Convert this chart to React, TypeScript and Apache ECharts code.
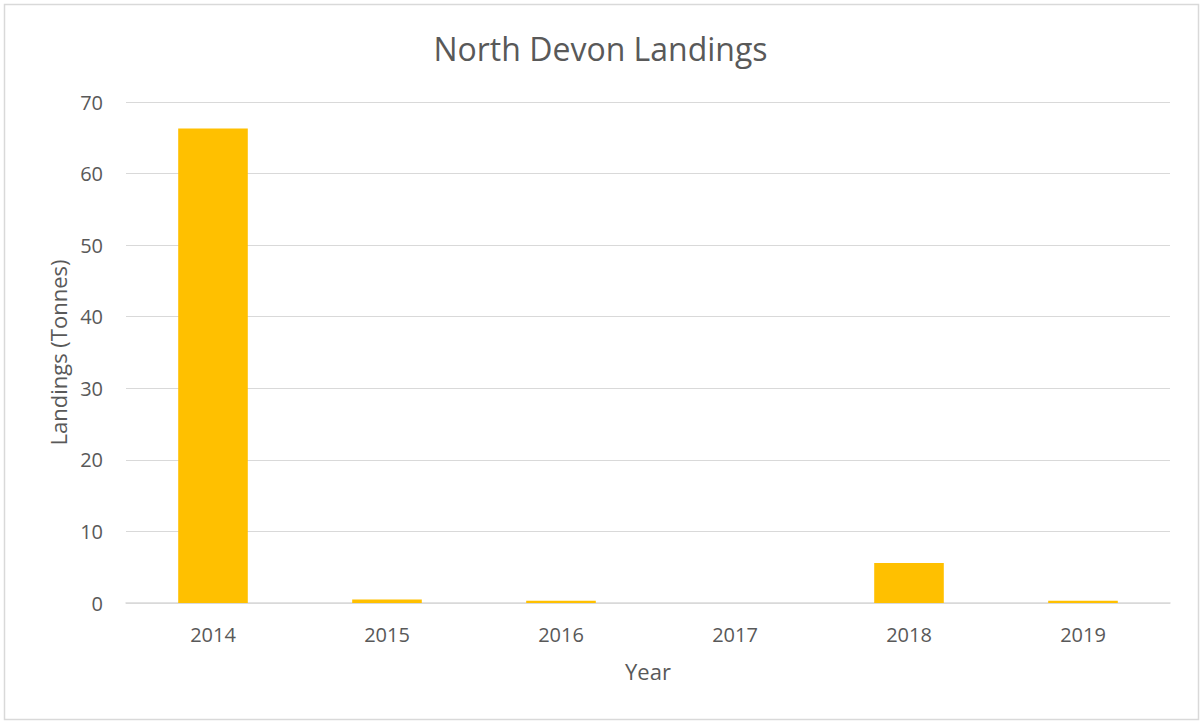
import React, { useEffect, useRef } from "react";
import * as echarts from "echarts";

const categories = ["2014", "2015", "2016", "2017", "2018", "2019"];
const landings = [66.3, 0.5, 0.3, 0, 5.6, 0.3];
const chartTitle = "North Devon Landings";
const xName = "Year";
const yName = "Landings (Tonnes)";

const FONT = "'Open Sans', 'Noto Sans', sans-serif";

export default function App() {
  const ref = useRef<HTMLDivElement>(null);
  useEffect(() => {
    document.body.style.margin = "0";
    const chart = echarts.init(ref.current!, null, { renderer: "svg" });
    chart.setOption({
      animation: false,
      backgroundColor: "#ffffff",
      title: {
        text: chartTitle,
        left: "center",
        top: 27,
        textStyle: { fontFamily: FONT, fontSize: 32, fontWeight: "normal", color: "#595959" },
      },
      graphic: [
        {
          type: "rect",
          shape: { x: 4.5, y: 4.5, width: 1194, height: 715 },
          style: { fill: "none", stroke: "#d9d9d9", lineWidth: 1.5 },
          silent: true,
        },
      ],
      grid: { left: 126, right: 31, top: 102, bottom: 121 },
      xAxis: {
        type: "category",
        data: categories,
        name: xName,
        nameLocation: "middle",
        nameGap: 57,
        nameTextStyle: { fontFamily: FONT, fontSize: 22, color: "#595959" },
        axisLine: { lineStyle: { color: "#d9d9d9", width: 1.5 } },
        axisTick: { show: false },
        axisLabel: { fontFamily: FONT, fontSize: 20, color: "#595959", margin: 21 },
      },
      yAxis: {
        type: "value",
        min: 0,
        max: 70,
        interval: 10,
        name: yName,
        nameLocation: "middle",
        nameGap: 57,
        nameTextStyle: { fontFamily: FONT, fontSize: 22, color: "#595959" },
        axisLine: { show: false },
        axisTick: { show: false },
        axisLabel: { fontFamily: FONT, fontSize: 20, color: "#595959", margin: 23 },
        splitLine: { lineStyle: { color: "#d9d9d9", width: 1.2 } },
      },
      series: [
        {
          type: "bar",
          data: landings,
          barWidth: "40%",
          itemStyle: { color: "#ffc000" },
        },
      ],
    });
    return () => chart.dispose();
  }, []);
  return <div ref={ref} style={{ width: 1201, height: 724 }} />;
}
